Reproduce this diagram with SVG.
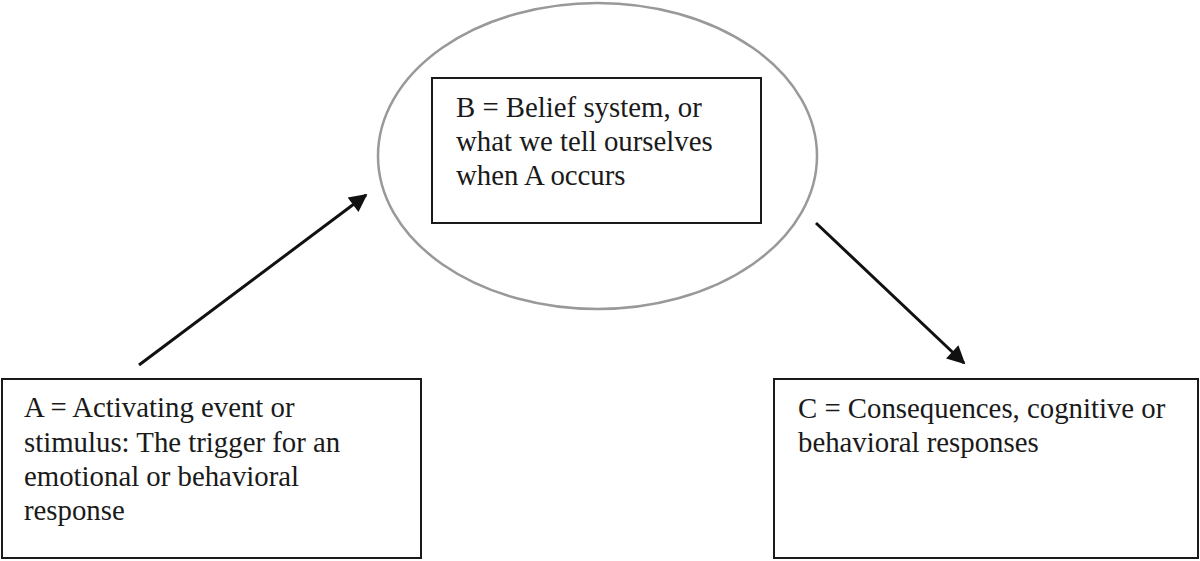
<svg xmlns="http://www.w3.org/2000/svg" width="1200" height="561" viewBox="0 0 1200 561">
<style>
.box{fill:#fff;stroke:#1a1a1a;stroke-width:2}
.lbl{font-family:"Liberation Serif","Times New Roman",serif;font-size:28.8px;fill:#1a1a1a}
.conn{stroke:#111;stroke-width:3;fill:none;marker-end:url(#ah)}
</style>
<defs>
<marker id="ah" viewBox="0 0 10 10" refX="9" refY="5" markerWidth="7" markerHeight="6" markerUnits="strokeWidth" orient="auto">
<path d="M0,0 L10,5 L0,10 z" fill="#111"/>
</marker>
</defs>
<rect width="1200" height="561" fill="#fff"/>
<g id="nodeB">
<ellipse cx="597.5" cy="156" rx="219.5" ry="153" fill="none" stroke="#999" stroke-width="2.5"/>
<rect class="box" x="432" y="78" width="329" height="145"/>
<text class="lbl"><tspan x="456" y="117">B = Belief system, or</tspan><tspan x="456" y="151">what we tell ourselves</tspan><tspan x="456" y="185">when A occurs</tspan></text>
</g>
<g id="nodeA">
<rect class="box" x="2" y="379" width="419" height="179"/>
<text class="lbl"><tspan x="24" y="417">A = Activating event or</tspan><tspan x="24" y="452">stimulus: The trigger for an</tspan><tspan x="24" y="486">emotional or behavioral</tspan><tspan x="24" y="520">response</tspan></text>
</g>
<g id="nodeC">
<rect class="box" x="774" y="379" width="424" height="179"/>
<text class="lbl"><tspan x="798" y="418">C = Consequences, cognitive or</tspan><tspan x="798" y="452">behavioral responses</tspan></text>
</g>
<g id="connectors">
<line class="conn" x1="139" y1="365" x2="366" y2="195"/>
<line class="conn" x1="816" y1="223" x2="964" y2="363"/>
</g>
</svg>
